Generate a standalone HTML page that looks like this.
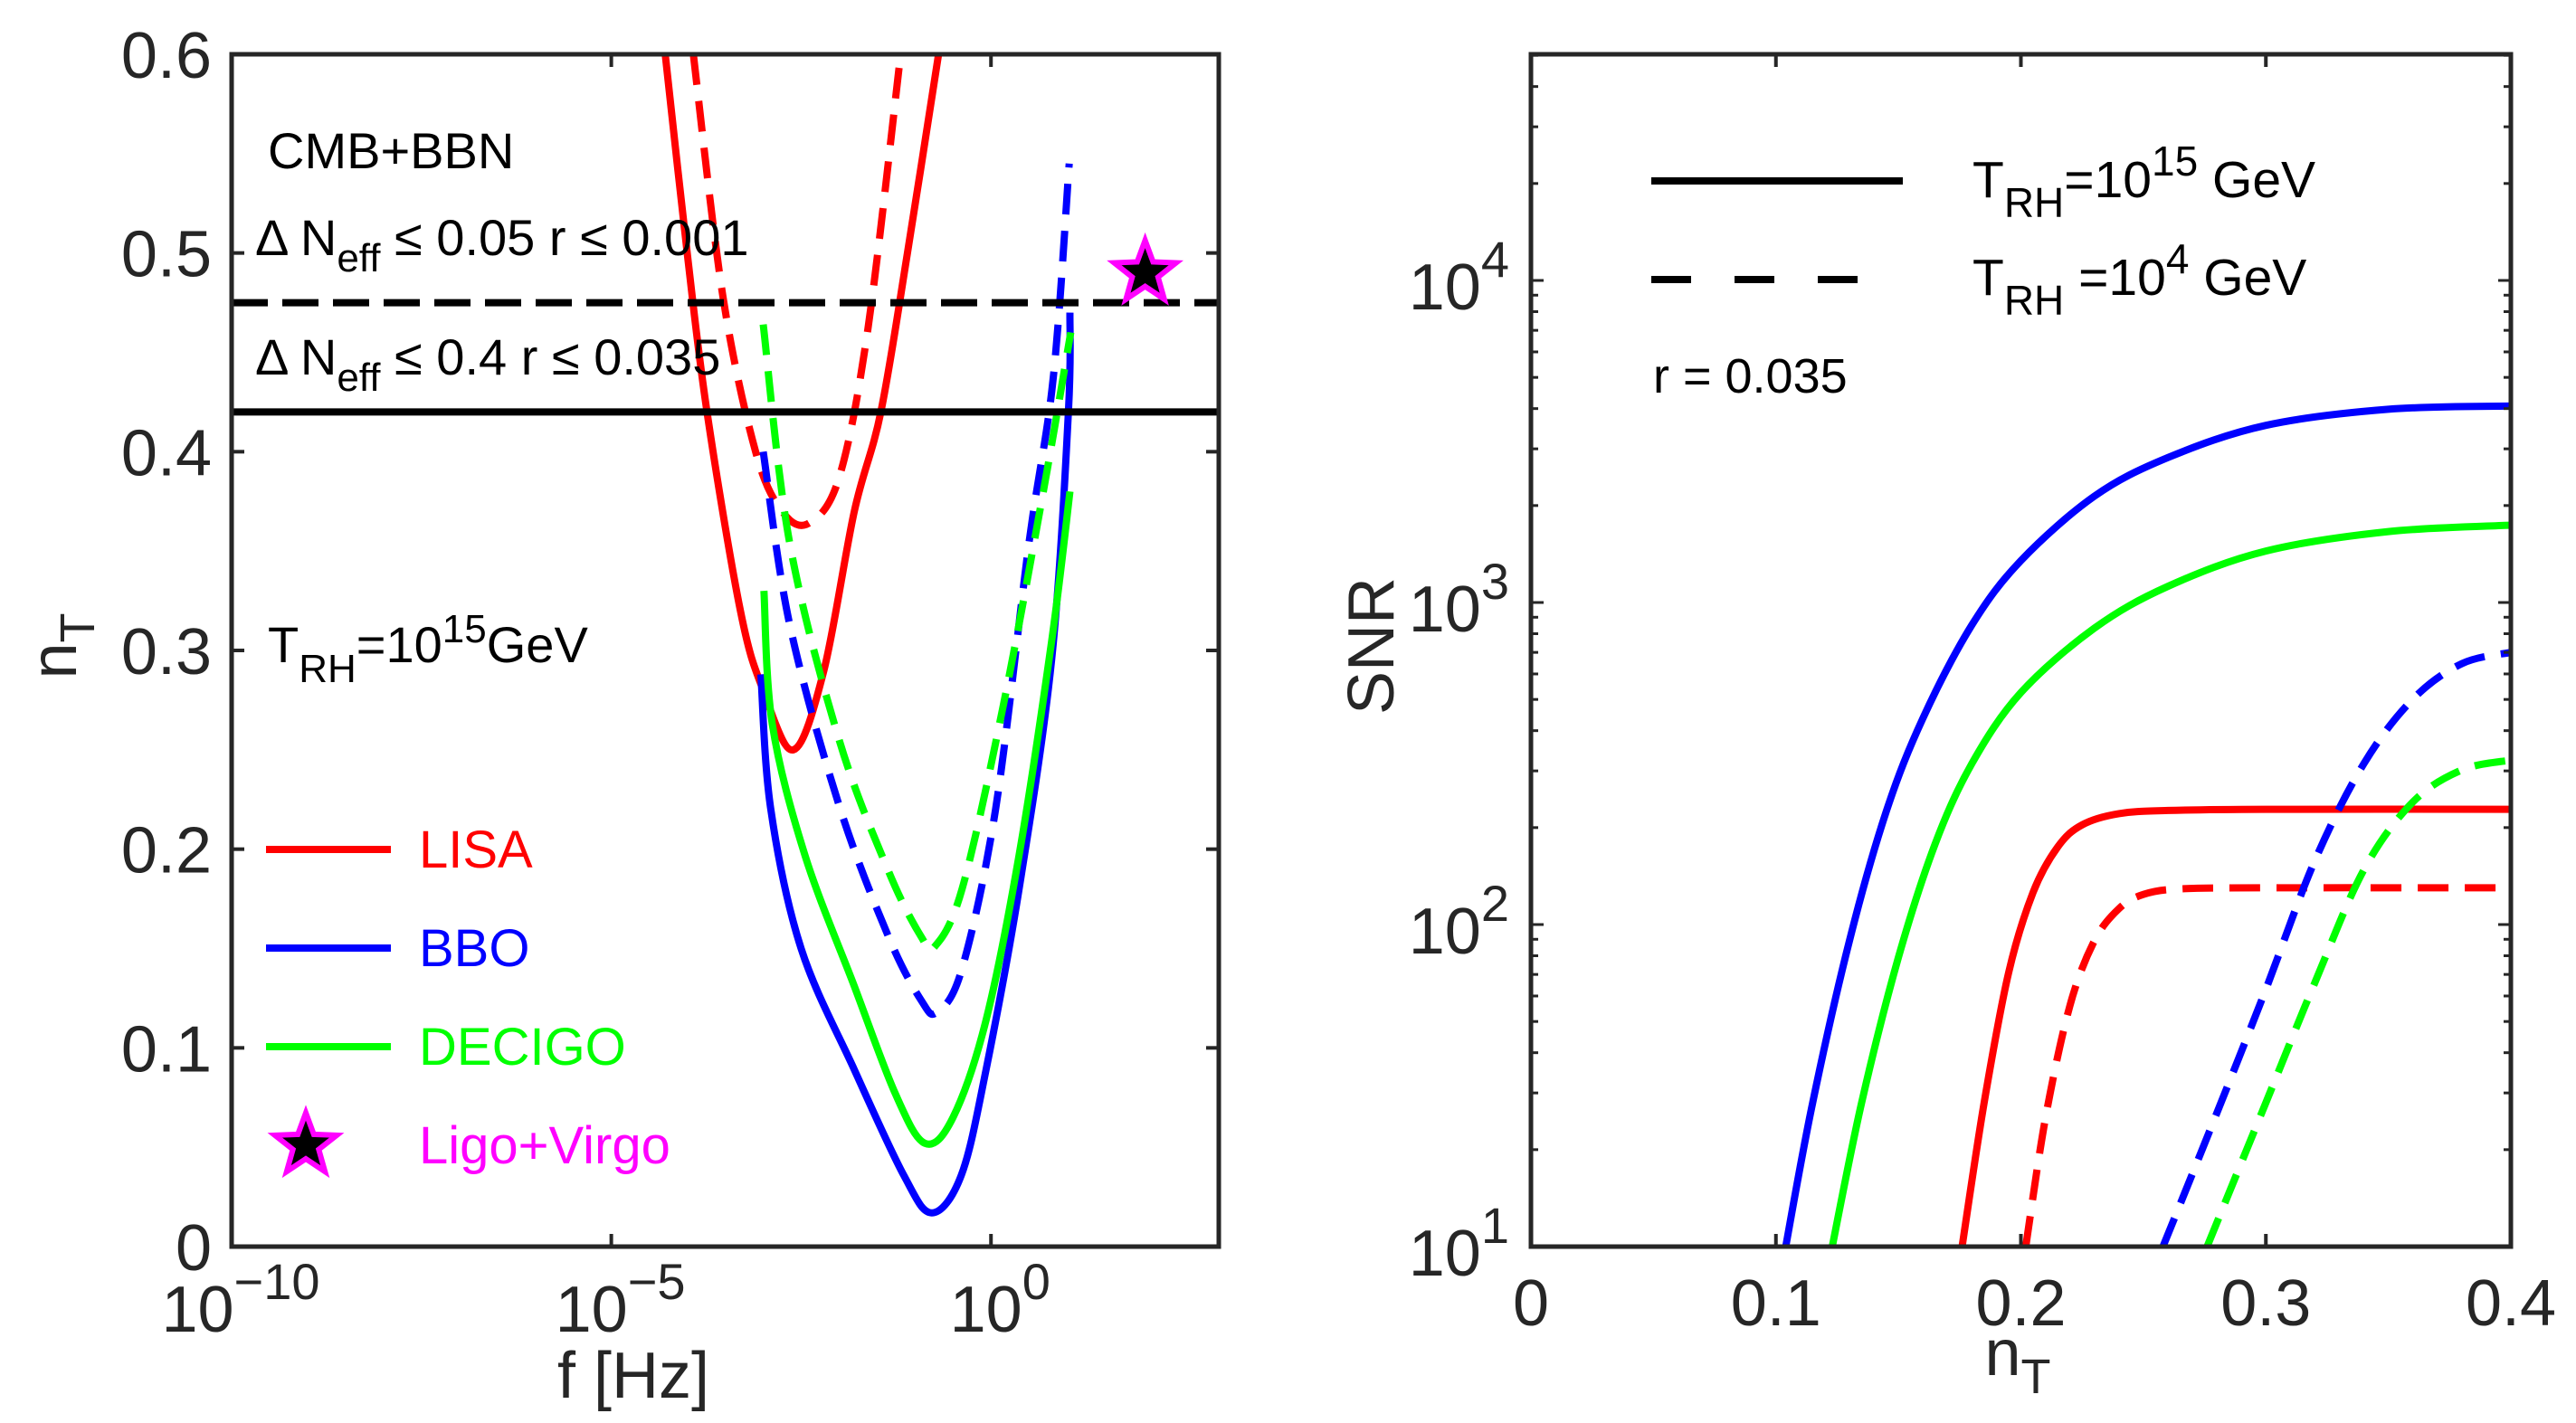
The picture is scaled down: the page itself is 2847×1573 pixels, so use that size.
<!DOCTYPE html>
<html><head><meta charset="utf-8">
<style>
html,body{margin:0;padding:0;background:#fff;}
svg{display:block;font-family:"Liberation Sans",Arial,sans-serif;}
</style></head>
<body>
<svg id="fig" width="2847" height="1573" viewBox="0 0 2847 1573" xmlns="http://www.w3.org/2000/svg">
<rect width="2847" height="1573" fill="#fff"/>
<g id="left"></g>
<g id="right"></g>
</svg>
<script>
// ---------- Left chart data (x = log10 f [Hz], y = n_T) ----------
const lisaSolidX = [-4.29,-4.0,-3.74,-3.3,-3.0,-2.6,-2.2,-1.8,-1.45,-1.1,-0.69];
const lisaSolidY = [0.6,0.5,0.42,0.32,0.28,0.25,0.29,0.37,0.42,0.5,0.6];
const lisaDashX = [-3.92,-3.53,-3.1,-2.75,-2.4,-2.0,-1.62,-1.19];
const lisaDashY = [0.6,0.478,0.40,0.37,0.364,0.387,0.462,0.6];
const bboSolidX = [-3.03,-2.9,-2.5,-1.8,-1.15,-0.78,-0.39,-0.065,0.37,0.8,1.02,1.04];
const bboSolidY = [0.288,0.22,0.15,0.089,0.036,0.017,0.036,0.089,0.18,0.296,0.42,0.47];
const bboDashX = [-3.0,-2.65,-2.0,-1.35,-0.92,-0.71,-0.38,0.06,0.5,0.82,1.03];
const bboDashY = [0.40,0.313,0.222,0.156,0.124,0.118,0.14,0.22,0.354,0.437,0.545];
const decSolidX = [-2.99,-2.88,-2.45,-1.8,-1.26,-0.87,-0.5,-0.065,0.37,0.8,1.04];
const decSolidY = [0.33,0.263,0.197,0.131,0.077,0.052,0.065,0.114,0.197,0.305,0.38];
const decDashX = [-3.0,-2.65,-2.0,-1.35,-0.92,-0.74,-0.38,0.15,0.69,1.05];
const decDashY = [0.464,0.354,0.255,0.189,0.156,0.151,0.18,0.27,0.38,0.46];
const hLineSolid = 0.42, hLineDash = 0.475;
const ligoStar = [2.03, 0.49];
const leftYTicks = [0,0.1,0.2,0.3,0.4,0.5,0.6];
const leftYTickLabels = ["0","0.1","0.2","0.3","0.4","0.5","0.6"];
const leftXTicks = [-10,-5,0];
const leftXTickLabels = ["\u221210","\u22125","0"];

// ---------- Right chart data (x = n_T, y = SNR) ----------
const rBlueSolidX = [0.104,0.115,0.13,0.145,0.16,0.18,0.2,0.23,0.26,0.3,0.35,0.4];
const rBlueSolidY = [10,28,89,224,437,851,1349,2138,2818,3548,3981,4074];
const rGreenSolidX = [0.123,0.135,0.15,0.165,0.18,0.2,0.23,0.26,0.3,0.35,0.4];
const rGreenSolidY = [10,28,79,178,316,525,832,1122,1445,1660,1738];
const rRedSolidX = [0.176,0.185,0.195,0.205,0.215,0.225,0.24,0.26,0.3,0.4];
const rRedSolidY = [10,28,71,126,174,204,221,226,228,228];
const rRedDashX = [0.202,0.21,0.22,0.23,0.24,0.25,0.265,0.3,0.4];
const rRedDashY = [10,25,56,89,112,124,129,130,130];
const rBlueDashX = [0.258,0.28,0.3,0.32,0.34,0.36,0.38,0.4];
const rBlueDashY = [10,26,63,158,316,501,646,700];
const rGreenDashX = [0.276,0.3,0.32,0.34,0.36,0.38,0.4];
const rGreenDashY = [10,28,66,148,240,302,324];
const rightXTicks = [0,0.1,0.2,0.3,0.4];
const rightXTickLabels = ["0","0.1","0.2","0.3","0.4"];
const rightYDecades = [1,2,3,4];

const NS="http://www.w3.org/2000/svg";
function mk(tag, attrs, parent){const e=document.createElementNS(NS,tag);for(const k in attrs)e.setAttribute(k,attrs[k]);parent.appendChild(e);return e;}
function smoothPath(pts){
  let d="M"+pts[0][0].toFixed(1)+","+pts[0][1].toFixed(1);
  for(let i=0;i<pts.length-1;i++){
    const p0=pts[Math.max(0,i-1)],p1=pts[i],p2=pts[i+1],p3=pts[Math.min(pts.length-1,i+2)];
    const c1=[p1[0]+(p2[0]-p0[0])/6,p1[1]+(p2[1]-p0[1])/6];
    const c2=[p2[0]-(p3[0]-p1[0])/6,p2[1]-(p3[1]-p1[1])/6];
    d+=" C"+c1[0].toFixed(1)+","+c1[1].toFixed(1)+" "+c2[0].toFixed(1)+","+c2[1].toFixed(1)+" "+p2[0].toFixed(1)+","+p2[1].toFixed(1);
  }
  return d;
}
function starPts(cx,cy,R,r){let s=[];for(let i=0;i<10;i++){const a=-Math.PI/2+i*Math.PI/5;const rr=i%2?r:R;s.push((cx+rr*Math.cos(a)).toFixed(1)+","+(cy+rr*Math.sin(a)).toFixed(1));}return s.join(" ");}

// ===== LEFT =====
const L=document.getElementById('left');
const lx0=256,lx1=1347,ly0=1378,ly1=60;
const lxs=v=>lx0+(v-(-10))/13*(lx1-lx0);
const lys=v=>ly0-(v/0.6)*(ly0-ly1);
const lclip=mk('clipPath',{id:'lclip'},L);
mk('rect',{x:lx0,y:ly1,width:lx1-lx0,height:ly0-ly1},lclip);
const lcurves=mk('g',{'clip-path':'url(#lclip)'},L);
function lcurve(xs,ys,color,dash,name){
  const p=mk('path',{d:smoothPath(xs.map((x,i)=>[lxs(x),lys(ys[i])])),fill:'none',stroke:color,'stroke-width':8,'stroke-dasharray':dash?'34 18':'none'},lcurves);
  
  
}
lcurve(lisaSolidX,lisaSolidY,'#ff0000',false,'lisa-solid-curve');
lcurve(lisaDashX,lisaDashY,'#ff0000',true,'lisa-dashed-curve');
lcurve(bboSolidX,bboSolidY,'#0000ff',false,'bbo-solid-curve');
lcurve(bboDashX,bboDashY,'#0000ff',true,'bbo-dashed-curve');
lcurve(decSolidX,decSolidY,'#00ff00',false,'decigo-solid-curve');
lcurve(decDashX,decDashY,'#00ff00',true,'decigo-dashed-curve');
let hl=mk('line',{x1:lx0,x2:lx1,y1:lys(hLineSolid),y2:lys(hLineSolid),stroke:'#000','stroke-width':8},L);


hl=mk('line',{x1:lx0,x2:lx1,y1:lys(hLineDash),y2:lys(hLineDash),stroke:'#000','stroke-width':8,'stroke-dasharray':'40 16'},L);


let st=mk('polygon',{points:starPts(lxs(ligoStar[0]),lys(ligoStar[1]),36,15),fill:'#000',stroke:'#ff00ff','stroke-width':6},L);


let ax=mk('rect',{x:lx0,y:ly1,width:lx1-lx0,height:ly0-ly1,fill:'none',stroke:'#262626','stroke-width':5},L);


leftYTicks.forEach((v,i)=>{
  const y=lys(v);
  mk('line',{x1:lx0,x2:lx0+14,y1:y,y2:y,stroke:'#262626','stroke-width':4},L);
  mk('line',{x1:lx1,x2:lx1-14,y1:y,y2:y,stroke:'#262626','stroke-width':4},L);
  const t=mk('text',{x:lx0-22,y:y+26,'text-anchor':'end','font-size':72,fill:'#262626'},L);
  t.textContent=leftYTickLabels[i];
  
  
});
leftXTicks.forEach((v,i)=>{
  const x=lxs(v);
  mk('line',{x1:x,x2:x,y1:ly0,y2:ly0-14,stroke:'#262626','stroke-width':4},L);
  mk('line',{x1:x,x2:x,y1:ly1,y2:ly1+14,stroke:'#262626','stroke-width':4},L);
  const t=mk('text',{x:x+10,y:1472,'text-anchor':'middle','font-size':72,fill:'#262626'},L);
  t.innerHTML='10<tspan dy="-36" font-size="56">'+leftXTickLabels[i]+'</tspan>';
  
  
});
</script>
<script>
(function(){
const L=document.getElementById('left');
let sp=[];for(let i=0;i<10;i++){const a=-Math.PI/2+i*Math.PI/5;const r=i%2?15:36;sp.push((338+r*Math.cos(a)).toFixed(1)+','+(1266+r*Math.sin(a)).toFixed(1));}
L.insertAdjacentHTML('beforeend',`
<text x="700" y="1545" font-size="72" text-anchor="middle" fill="#262626">f [Hz]</text>
<text transform="translate(84,714) rotate(-90)" font-size="72" text-anchor="middle" fill="#262626">n<tspan dy="20" font-size="54">T</tspan></text>
<text x="296" y="186" font-size="56" fill="#000">CMB+BBN</text>
<text x="282" y="282" font-size="56" fill="#000">Δ N<tspan dy="18" font-size="44">eff</tspan><tspan dy="-18"> ≤ 0.05  r ≤ 0.001</tspan></text>
<text x="282" y="414" font-size="56" fill="#000">Δ N<tspan dy="18" font-size="44">eff</tspan><tspan dy="-18"> ≤ 0.4 r ≤ 0.035</tspan></text>
<text x="296" y="732" font-size="56" fill="#000">T<tspan dy="22" font-size="44">RH</tspan><tspan dy="-22">=10</tspan><tspan dy="-22" font-size="44">15</tspan><tspan dy="22">GeV</tspan></text>
<g>
<line x1="294" x2="432" y1="939" y2="939" stroke="#ff0000" stroke-width="8"/>
<text x="463" y="959" font-size="58" fill="#ff0000">LISA</text>
<line x1="294" x2="432" y1="1048" y2="1048" stroke="#0000ff" stroke-width="8"/>
<text x="463" y="1068" font-size="58" fill="#0000ff">BBO</text>
<line x1="294" x2="432" y1="1157" y2="1157" stroke="#00ff00" stroke-width="8"/>
<text x="463" y="1177" font-size="58" fill="#00ff00">DECIGO</text>
<polygon points="${sp.join(' ')}" fill="#000" stroke="#ff00ff" stroke-width="6"/>
<text x="463" y="1286" font-size="58" fill="#ff00ff">Ligo+Virgo</text>
</g>`);
})();
</script>
<script>
(function(){
const R=document.getElementById('right');
const rx0=1692,rx1=2775,ry0=1378,ry1=60;
const dec=356;
const rxs=v=>rx0+v/0.4*(rx1-rx0);
const rys=v=>ry0-(Math.log10(v)-1)*dec;
const clip=mk('clipPath',{id:'rclip'},R);
mk('rect',{x:rx0,y:ry1,width:rx1-rx0,height:ry0-ry1},clip);
const g=mk('g',{'clip-path':'url(#rclip)'},R);
function rc(xs,ys,color,dash,name){
  const p=mk('path',{d:smoothPath(xs.map((x,i)=>[rxs(x),rys(ys[i])])),fill:'none',stroke:color,'stroke-width':8,'stroke-dasharray':dash?'34 18':'none'},g);
  
  
}
rc(rBlueSolidX,rBlueSolidY,'#0000ff',false,'bbo-snr-solid');
rc(rGreenSolidX,rGreenSolidY,'#00ff00',false,'decigo-snr-solid');
rc(rRedSolidX,rRedSolidY,'#ff0000',false,'lisa-snr-solid');
rc(rRedDashX,rRedDashY,'#ff0000',true,'lisa-snr-dashed');
rc(rBlueDashX,rBlueDashY,'#0000ff',true,'bbo-snr-dashed');
rc(rGreenDashX,rGreenDashY,'#00ff00',true,'decigo-snr-dashed');
const box=mk('rect',{x:rx0,y:ry1,width:rx1-rx0,height:ry0-ry1,fill:'none',stroke:'#262626','stroke-width':5},R);


rightXTicks.forEach((v,i)=>{
  const x=rxs(v);
  mk('line',{x1:x,x2:x,y1:ry0,y2:ry0-14,stroke:'#262626','stroke-width':4},R);
  mk('line',{x1:x,x2:x,y1:ry1,y2:ry1+14,stroke:'#262626','stroke-width':4},R);
  const t=mk('text',{x:x,y:1465,'text-anchor':'middle','font-size':72,fill:'#262626'},R);
  t.textContent=rightXTickLabels[i];
  
  
});
for(let d=1;d<=4;d++){
  for(let m=1;m<=9;m++){
    const y=rys(m*Math.pow(10,d));
    if(y<ry1)continue;
    const len=m===1?14:8;
    mk('line',{x1:rx0,x2:rx0+len,y1:y,y2:y,stroke:'#262626','stroke-width':3},R);
    mk('line',{x1:rx1,x2:rx1-len,y1:y,y2:y,stroke:'#262626','stroke-width':3},R);
  }
}
rightYDecades.forEach(d=>{
  const y=rys(Math.pow(10,d));
  const t=mk('text',{x:rx0-24,y:y+32,'text-anchor':'end','font-size':72,fill:'#262626'},R);
  t.innerHTML='10<tspan dy="-36" font-size="56">'+d+'</tspan>';
  
  
});
R.insertAdjacentHTML('beforeend',`
<text x="2230" y="1520" font-size="72" text-anchor="middle" fill="#262626">n<tspan dy="20" font-size="54">T</tspan></text>
<text transform="translate(1540,714) rotate(-90)" font-size="72" text-anchor="middle" fill="#262626">SNR</text>
<g>
<line x1="1825" x2="2103" y1="200" y2="200" stroke="#000" stroke-width="8"/>
<text x="2180" y="218" font-size="57" fill="#000">T<tspan dy="22" font-size="46">RH</tspan><tspan dy="-22">=10</tspan><tspan dy="-24" font-size="46">15</tspan><tspan dy="24"> GeV</tspan></text>
<line x1="1825" x2="2068" y1="309" y2="309" stroke="#000" stroke-width="8" stroke-dasharray="44 48"/>
<text x="2180" y="326" font-size="57" fill="#000">T<tspan dy="22" font-size="46">RH</tspan><tspan dy="-22"> =10</tspan><tspan dy="-24" font-size="46">4</tspan><tspan dy="24"> GeV</tspan></text>
<text x="1827" y="434" font-size="54" fill="#000">r = 0.035</text>
</g>`);
})();
</script>
</body></html>
